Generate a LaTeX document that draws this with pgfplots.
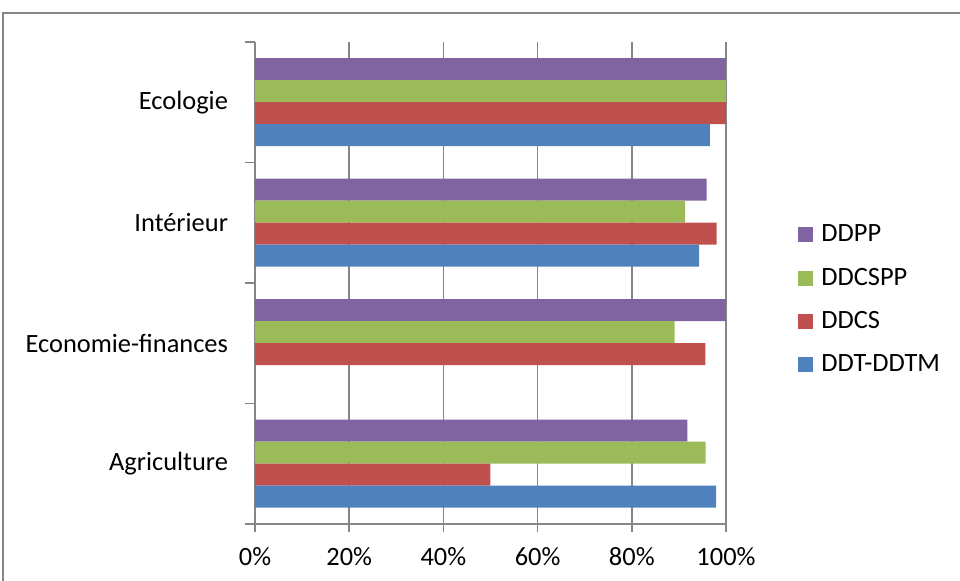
\documentclass[border=0pt]{standalone}
\usepackage{pgfplots}
\pgfplotsset{compat=1.18}
\usepackage{fontspec}
\setmainfont{Carlito}
\definecolor{cDDPP}{HTML}{8064A2}
\definecolor{cDDCSPP}{HTML}{9BBB59}
\definecolor{cDDCS}{HTML}{C0504D}
\definecolor{cDDT}{HTML}{4F81BD}
\definecolor{gridgray}{HTML}{868686}
\newcommand\cf{\fontsize{13.2}{15.8}\selectfont}
\begin{document}
\begin{tikzpicture}
\useasboundingbox (0,0) rectangle (480pt,290.5pt);
\draw[color=gridgray, line width=1pt] (1.5pt,-10pt) rectangle (490pt,284pt);
\begin{axis}[
  at={(127.5pt,28.5pt)}, anchor=south west,
  scale only axis, width=235.5pt, height=241pt,
  xbar, bar width=11pt,
  xmin=0, xmax=1, ymin=-0.5, ymax=3.5,
  axis x line*=bottom, axis y line*=left,
  axis line style={color=gridgray, line width=0.75pt},
  xtick={0,0.2,0.4,0.6,0.8,1},
  xticklabels={0\%,20\%,40\%,60\%,80\%,100\%},
  ytick={0,1,2,3},
  yticklabels={Agriculture,Economie-finances,Intérieur,Ecologie},
  minor ytick={-0.5,0.5,1.5,2.5,3.5},
  tick align=outside,
  major tick length=4pt, minor tick length=5pt,
  every major y tick/.append style={draw=none},
  tick style={color=gridgray, line width=0.75pt},
  xmajorgrids, grid style={color=gridgray, line width=0.75pt},
  tick label style={font=\cf, text=black},
  xticklabel style={yshift=-4pt},
  yticklabel style={xshift=-6pt},
  legend style={at={(1,0.465)}, anchor=west, xshift=36pt, draw=none, fill=none,
    font=\cf, row sep=7.6pt, inner sep=0pt},
  legend cell align=left,
  legend image code/.code={\fill[#1] (0pt,-3.75pt) rectangle (7.5pt,3.75pt); \path (9.5pt,0pt);},
]
\addplot[fill=cDDPP, draw=none, bar shift=16.5pt] coordinates {(0.918,0) (1.0,1) (0.959,2) (1.0,3)};
\addlegendentry{DDPP}
\addplot[fill=cDDCSPP, draw=none, bar shift=5.5pt] coordinates {(0.957,0) (0.891,1) (0.913,2) (1.0,3)};
\addlegendentry{DDCSPP}
\addplot[fill=cDDCS, draw=none, bar shift=-5.5pt] coordinates {(0.50,0) (0.956,1) (0.980,2) (1.0,3)};
\addlegendentry{DDCS}
\addplot[fill=cDDT, draw=none, bar shift=-16.5pt] coordinates {(0.979,0) (0.943,2) (0.966,3)};
\addlegendentry{DDT-DDTM}
\end{axis}
\end{tikzpicture}
\end{document}
